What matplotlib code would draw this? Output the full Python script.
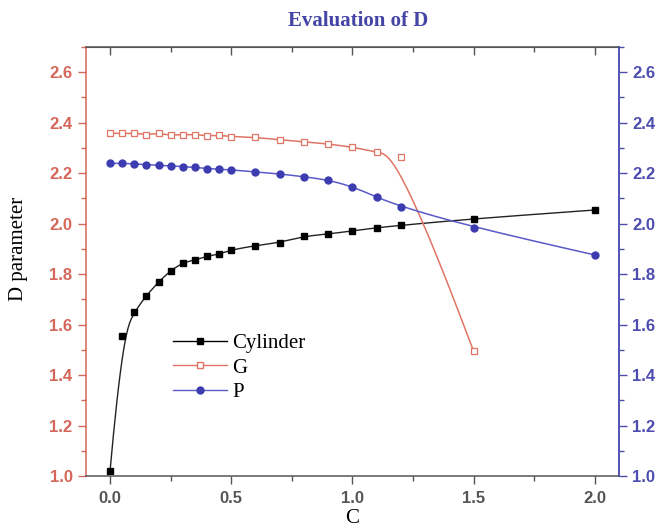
import matplotlib
matplotlib.use('Agg')
import matplotlib.pyplot as plt
import numpy as np
from matplotlib.ticker import MultipleLocator

# data
c_cyl = [0.0, 0.05, 0.1, 0.15, 0.2, 0.25, 0.3, 0.35, 0.4, 0.45, 0.5,
         0.6, 0.7, 0.8, 0.9, 1.0, 1.1, 1.2, 1.5, 2.0]
d_cyl = [1.02, 1.554, 1.651, 1.715, 1.769, 1.814, 1.845, 1.856, 1.871, 1.879, 1.896,
         1.913, 1.925, 1.950, 1.959, 1.971, 1.984, 1.993, 2.020, 2.054]

c_g = [0.0, 0.05, 0.1, 0.15, 0.2, 0.25, 0.3, 0.35, 0.4, 0.45, 0.5,
       0.6, 0.7, 0.8, 0.9, 1.0, 1.1, 1.2, 1.5]
d_g = [2.358, 2.358, 2.358, 2.353, 2.358, 2.350, 2.353, 2.353, 2.348, 2.350, 2.345,
       2.342, 2.332, 2.324, 2.316, 2.303, 2.284, 2.263, 1.494]

c_p = [0.0, 0.05, 0.1, 0.15, 0.2, 0.25, 0.3, 0.35, 0.4, 0.45, 0.5,
       0.6, 0.7, 0.8, 0.9, 1.0, 1.1, 1.2, 1.5, 2.0]
d_p = [2.239, 2.239, 2.237, 2.234, 2.231, 2.229, 2.226, 2.223, 2.218, 2.216, 2.213,
       2.205, 2.197, 2.186, 2.173, 2.147, 2.105, 2.067, 1.984, 1.876]

RED = '#d4675a'
BLUE = '#4d4db0'
GRAY = '#555555'


def bspline(x, y, n=500, k=3):
    # clamped cubic B-spline, data points used as control points (Origin style)
    pts = np.column_stack([x, y])
    m = len(pts)
    knots = np.concatenate([np.zeros(k), np.linspace(0, 1, m - k + 1), np.ones(k)])
    t = np.linspace(0, 1, n)
    N = np.zeros((n, len(knots) - 1))
    for i in range(len(knots) - 1):
        N[:, i] = (knots[i] <= t) & (t < knots[i + 1])
    last = np.where(knots[:-1] < knots[1:])[0][-1]
    N[t >= 1, last] = 1
    for d in range(1, k + 1):
        Nn = np.zeros((n, len(knots) - 1 - d))
        for i in range(len(knots) - 1 - d):
            a = knots[i + d] - knots[i]
            b = knots[i + d + 1] - knots[i + 1]
            left = (t - knots[i]) / a * N[:, i] if a > 0 else 0
            right = (knots[i + d + 1] - t) / b * N[:, i + 1] if b > 0 else 0
            Nn[:, i] = left + right
        N = Nn
    curve = N @ pts
    return curve[:, 0], curve[:, 1]


fig = plt.figure(figsize=(6.6, 5.28), dpi=100)
ax = fig.add_axes([0.130, 0.0985, 0.808, 0.8125])

sx, sy = bspline(c_cyl, d_cyl)
ax.plot(sx, sy, color='#222222', lw=1.0)
sx, sy = bspline(c_g, d_g)
ax.plot(sx, sy, color='#e07565', lw=1.1)
sx, sy = bspline(c_p, d_p)
ax.plot(sx, sy, color='#5a5ac8', lw=1.1)

ax.plot(c_cyl, d_cyl, 's', color='black', ms=4.4, ls='none')
ax.plot(c_g, d_g, 's', mfc='white', mec='#e07565', mew=0.9, ms=4.4, ls='none')
ax.plot(c_p, d_p, 'o', color='#3c3cb0', ms=5, ls='none')

# legend proxies
h1, = ax.plot([], [], '-s', color='black', ms=4.4, lw=1.0)
h2, = ax.plot([], [], '-s', color='#e07565', mfc='white', mec='#e07565', ms=4.4, lw=1.0)
h3, = ax.plot([], [], '-o', color='#5a5ac8', mfc='#3c3cb0', mec='#3c3cb0', ms=5, lw=1.0)
leg = ax.legend([h1, h2, h3], ['Cylinder', 'G', 'P'], loc='upper left',
                bbox_to_anchor=(0.163, 0.332), frameon=False, borderpad=0,
                borderaxespad=0, handlelength=2.6, handletextpad=0.25,
                labelspacing=0.24, prop={'family': 'Liberation Serif', 'size': 15})

ax.set_xlim(-0.1, 2.1)
ax.set_ylim(1.0, 2.7)
ax.xaxis.set_major_locator(MultipleLocator(0.5))
ax.xaxis.set_minor_locator(MultipleLocator(0.25))
ax.yaxis.set_major_locator(MultipleLocator(0.2))
ax.yaxis.set_minor_locator(MultipleLocator(0.1))
ax.xaxis.set_major_formatter(plt.FormatStrFormatter('%.1f'))
ax.yaxis.set_major_formatter(plt.FormatStrFormatter('%.1f'))

ax.tick_params(axis='x', which='both', direction='out', top=False, colors=GRAY,
               labelsize=12, pad=5)
ax.tick_params(axis='x', which='major', length=6, width=1)
ax.tick_params(axis='x', which='minor', length=3.5, width=1)
ax.tick_params(axis='y', which='both', direction='out', colors=RED, labelsize=12)
ax.tick_params(axis='y', which='major', length=6, width=1)
ax.tick_params(axis='y', which='minor', length=3.5, width=1)
for lab in ax.get_xticklabels() + ax.get_yticklabels():
    lab.set_family('Liberation Sans')
    lab.set_fontweight('bold')

ax.spines['left'].set_color(RED)
ax.spines['bottom'].set_color(GRAY)
ax.spines['top'].set_color(GRAY)
ax.spines['right'].set_color(BLUE)
for s in ax.spines.values():
    s.set_linewidth(1.1)

# top ticks pointing inward
sec = ax.secondary_xaxis('top')
sec.xaxis.set_major_locator(MultipleLocator(0.5))
sec.xaxis.set_minor_locator(MultipleLocator(0.25))
sec.tick_params(which='both', direction='in', colors=GRAY, labeltop=False)
sec.tick_params(which='major', length=6, width=1)
sec.tick_params(which='minor', length=3.5, width=1)
sec.spines['top'].set_color(GRAY)

ax2 = ax.twinx()
ax2.set_ylim(1.0, 2.7)
ax2.yaxis.set_major_locator(MultipleLocator(0.2))
ax2.yaxis.set_minor_locator(MultipleLocator(0.1))
ax2.yaxis.set_major_formatter(plt.FormatStrFormatter('%.1f'))
ax2.tick_params(axis='y', which='both', direction='out', colors=BLUE, labelsize=12)
ax2.tick_params(axis='y', which='major', length=6, width=1)
ax2.tick_params(axis='y', which='minor', length=3.5, width=1)
for lab in ax2.get_yticklabels():
    lab.set_family('Liberation Sans')
    lab.set_fontweight('bold')
ax2.spines['right'].set_color(BLUE)
ax2.spines['right'].set_linewidth(1.1)
ax2.spines['left'].set_visible(False)
ax2.spines['top'].set_visible(False)
ax2.spines['bottom'].set_visible(False)

ax.set_xlabel('C', family='Liberation Serif', fontsize=15, labelpad=2)
ax.set_ylabel('D parameter', family='Liberation Serif', fontsize=15)
ax.yaxis.set_label_coords(-0.108, 0.53)
fig.text(0.543, 0.96, 'Evaluation of D', ha='center', va='center',
         family='Liberation Serif', fontweight='bold', fontsize=15, color='#4545a5')

fig.savefig('out.png', dpi=100)
